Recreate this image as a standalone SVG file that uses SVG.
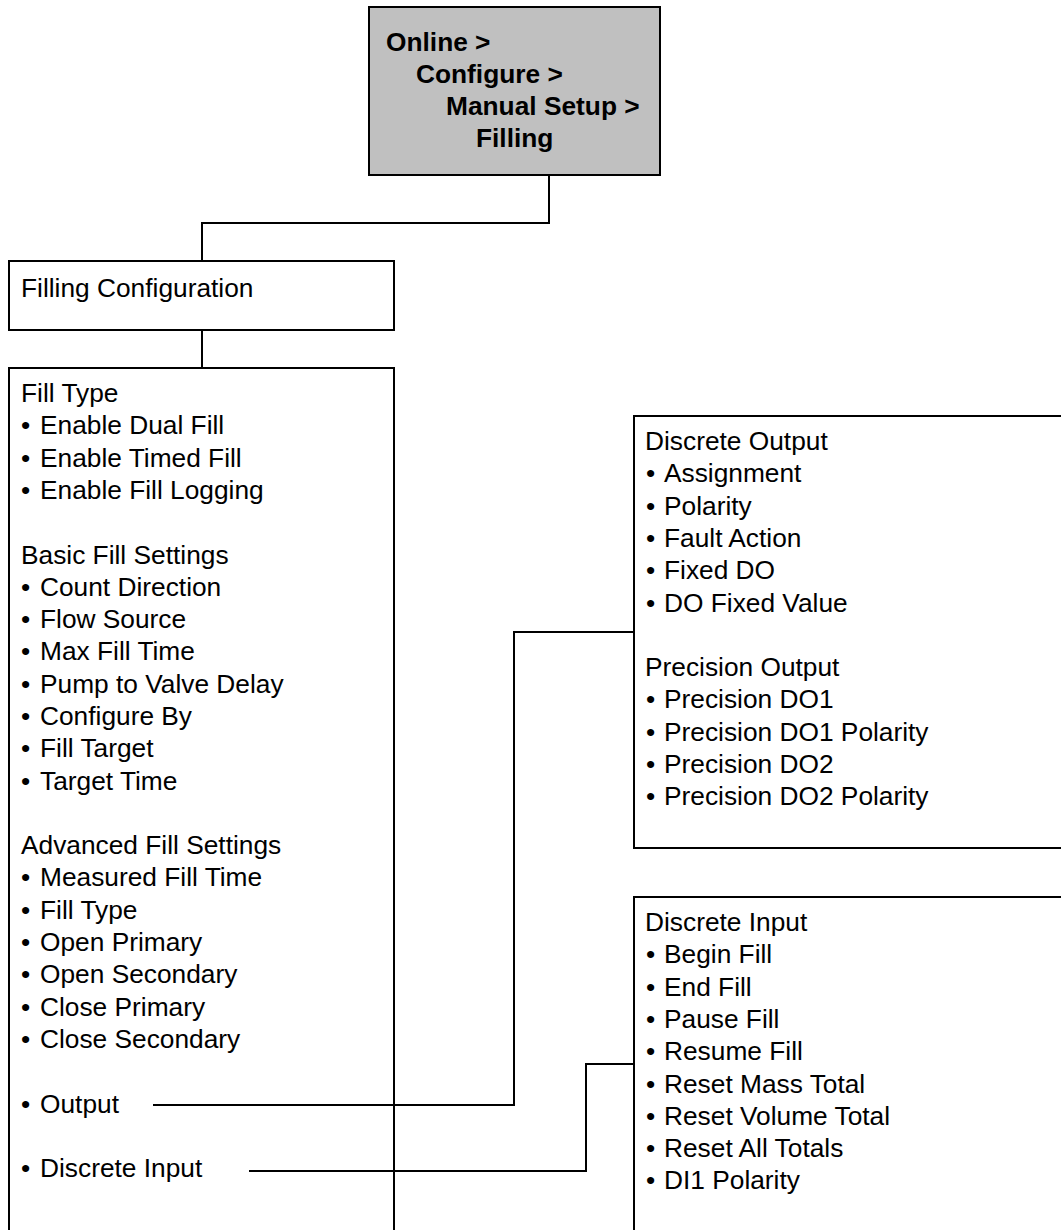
<svg xmlns="http://www.w3.org/2000/svg" width="1061" height="1230" viewBox="0 0 1061 1230">
<style>
.box{fill:#fff;stroke:#000;stroke-width:2}
.head{fill:#c0c0c0;stroke:#000;stroke-width:2}
.t{font-family:"Liberation Sans",Arial,sans-serif;font-size:26.3px;fill:#000}
.b{font-weight:bold}
.c{fill:none;stroke:#000;stroke-width:2}
</style>
<rect width="1061" height="1230" fill="#fff"/>
<g id="node-path">
<rect class="head" x="369" y="7" width="291" height="168"/>
<text class="t b"><tspan x="386" y="51">Online &gt;</tspan><tspan x="416" y="83">Configure &gt;</tspan><tspan x="446" y="115">Manual Setup &gt;</tspan><tspan x="476" y="147">Filling</tspan></text>
</g>
<g id="node-filling-configuration">
<rect class="box" x="9" y="261" width="385" height="69"/>
<text class="t" x="21" y="297">Filling Configuration</text>
</g>
<g id="node-fill-settings">
<rect class="box" x="9" y="368" width="385" height="900"/>
<text class="t"><tspan x="21" y="402">Fill Type</tspan><tspan x="21" dy="32.3">•</tspan><tspan x="40">Enable Dual Fill</tspan><tspan x="21" dy="32.3">•</tspan><tspan x="40">Enable Timed Fill</tspan><tspan x="21" dy="32.3">•</tspan><tspan x="40">Enable Fill Logging</tspan><tspan x="21" dy="64.6">Basic Fill Settings</tspan><tspan x="21" dy="32.3">•</tspan><tspan x="40">Count Direction</tspan><tspan x="21" dy="32.3">•</tspan><tspan x="40">Flow Source</tspan><tspan x="21" dy="32.3">•</tspan><tspan x="40">Max Fill Time</tspan><tspan x="21" dy="32.3">•</tspan><tspan x="40">Pump to Valve Delay</tspan><tspan x="21" dy="32.3">•</tspan><tspan x="40">Configure By</tspan><tspan x="21" dy="32.3">•</tspan><tspan x="40">Fill Target</tspan><tspan x="21" dy="32.3">•</tspan><tspan x="40">Target Time</tspan><tspan x="21" dy="64.6">Advanced Fill Settings</tspan><tspan x="21" dy="32.3">•</tspan><tspan x="40">Measured Fill Time</tspan><tspan x="21" dy="32.3">•</tspan><tspan x="40">Fill Type</tspan><tspan x="21" dy="32.3">•</tspan><tspan x="40">Open Primary</tspan><tspan x="21" dy="32.3">•</tspan><tspan x="40">Open Secondary</tspan><tspan x="21" dy="32.3">•</tspan><tspan x="40">Close Primary</tspan><tspan x="21" dy="32.3">•</tspan><tspan x="40">Close Secondary</tspan><tspan x="21" dy="64.6">•</tspan><tspan x="40">Output</tspan><tspan x="21" dy="64.6">•</tspan><tspan x="40">Discrete Input</tspan></text>
</g>
<g id="node-discrete-output">
<rect class="box" x="634" y="416" width="500" height="432"/>
<text class="t"><tspan x="645" y="450">Discrete Output</tspan><tspan x="646" dy="32.3">•</tspan><tspan x="664">Assignment</tspan><tspan x="646" dy="32.3">•</tspan><tspan x="664">Polarity</tspan><tspan x="646" dy="32.3">•</tspan><tspan x="664">Fault Action</tspan><tspan x="646" dy="32.3">•</tspan><tspan x="664">Fixed DO</tspan><tspan x="646" dy="32.3">•</tspan><tspan x="664">DO Fixed Value</tspan><tspan x="645" dy="64.6">Precision Output</tspan><tspan x="646" dy="32.3">•</tspan><tspan x="664">Precision DO1</tspan><tspan x="646" dy="32.3">•</tspan><tspan x="664">Precision DO1 Polarity</tspan><tspan x="646" dy="32.3">•</tspan><tspan x="664">Precision DO2</tspan><tspan x="646" dy="32.3">•</tspan><tspan x="664">Precision DO2 Polarity</tspan></text>
</g>
<g id="node-discrete-input">
<rect class="box" x="634" y="897" width="500" height="400"/>
<text class="t"><tspan x="645" y="931">Discrete Input</tspan><tspan x="646" dy="32.3">•</tspan><tspan x="664">Begin Fill</tspan><tspan x="646" dy="32.3">•</tspan><tspan x="664">End Fill</tspan><tspan x="646" dy="32.3">•</tspan><tspan x="664">Pause Fill</tspan><tspan x="646" dy="32.3">•</tspan><tspan x="664">Resume Fill</tspan><tspan x="646" dy="32.3">•</tspan><tspan x="664">Reset Mass Total</tspan><tspan x="646" dy="32.3">•</tspan><tspan x="664">Reset Volume Total</tspan><tspan x="646" dy="32.3">•</tspan><tspan x="664">Reset All Totals</tspan><tspan x="646" dy="32.3">•</tspan><tspan x="664">DI1 Polarity</tspan></text>
</g>
<g id="connectors">
<polyline class="c" points="549,175 549,223 202,223 202,261"/>
<polyline class="c" points="202,330 202,368"/>
<polyline class="c" points="153,1105 514,1105 514,632 634,632"/>
<polyline class="c" points="249,1171 586,1171 586,1064 634,1064"/>
</g>
</svg>
